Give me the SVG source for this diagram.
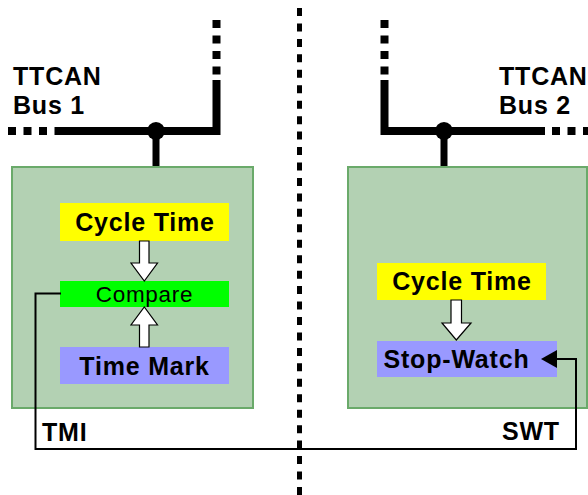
<svg xmlns="http://www.w3.org/2000/svg" width="588" height="495" viewBox="0 0 588 495">
<style>
.unit{fill:#b3d1b3;stroke:#6aaa6a;stroke-width:2}
.bus{fill:none;stroke:#000;stroke-width:8;stroke-linejoin:miter;stroke-linecap:butt}
.dash{fill:none;stroke:#000;stroke-width:8;stroke-dasharray:8 7.5}
.sep{fill:none;stroke:#000;stroke-width:5;stroke-dasharray:8 7.45}
.b{font-family:"Liberation Sans",Arial,sans-serif;font-weight:bold;font-size:25px;letter-spacing:0.8px;fill:#000}
.r{font-family:"Liberation Sans",Arial,sans-serif;font-size:22.5px;letter-spacing:0.7px;fill:#000}
.harrow{fill:#fff;stroke:#000;stroke-width:1.2;stroke-linejoin:miter}
.wire{fill:none;stroke:#000;stroke-width:2}
</style>
<g id="separator">
<line class="sep" x1="299.5" y1="8" x2="299.5" y2="495"/>
</g>
<g id="bus1">
<path class="bus" d="M54.5,131 H216.5 V80"/>
<path class="dash" d="M8,131 H48"/>
<path class="dash" d="M216.5,20 V75"/>
<line x1="156" y1="131" x2="156" y2="167" stroke="#000" stroke-width="7"/>
<circle cx="156" cy="131" r="9" fill="#000"/>
<text class="b" x="13" y="85">TTCAN</text>
<text class="b" x="13" y="114">Bus 1</text>
</g>
<g id="bus2">
<path class="bus" d="M384.5,80 V131 H545"/>
<path class="dash" d="M384.5,20 V75"/>
<path class="dash" d="M552,131 H592"/>
<line x1="444" y1="131" x2="444" y2="167" stroke="#000" stroke-width="7"/>
<circle cx="444" cy="131" r="9" fill="#000"/>
<text class="b" x="499" y="85">TTCAN</text>
<text class="b" x="499" y="114">Bus 2</text>
</g>
<g id="tmi-unit">
<rect class="unit" x="12" y="167" width="241" height="241"/>
<text class="b" x="42" y="441">TMI</text>
</g>
<g id="swt-unit">
<rect class="unit" x="348" y="167" width="239" height="241"/>
<text class="b" x="502" y="440">SWT</text>
</g>
<g id="cycle-time-1">
<rect x="60" y="203" width="169" height="38" fill="#ffff00"/>
<text class="b" x="145" y="230.5" text-anchor="middle">Cycle Time</text>
</g>
<g id="compare">
<rect x="60" y="281" width="169" height="26" fill="#00ff00"/>
<text class="r" x="144.5" y="302" text-anchor="middle">Compare</text>
</g>
<g id="time-mark">
<rect x="60" y="347" width="169" height="37" fill="#9999ff"/>
<text class="b" x="144.5" y="374.5" text-anchor="middle">Time Mark</text>
</g>
<g id="cycle-time-2">
<rect x="377" y="263" width="169" height="37" fill="#ffff00"/>
<text class="b" x="462" y="290" text-anchor="middle">Cycle Time</text>
</g>
<g id="stop-watch">
<rect x="377" y="341" width="180" height="36" fill="#9999ff"/>
<text class="b" x="456.5" y="368" text-anchor="middle">Stop-Watch</text>
</g>
<g id="connectors">
<path class="harrow" d="M139.5,241 H149 V263 H157.5 L144.3,281 L131,263 H139.5 Z"/>
<path class="harrow" d="M139.5,347 H149 V325 H157.5 L144.3,307 L131,325 H139.5 Z"/>
<path class="harrow" d="M451,300 H461.5 V323 H471 L456.3,340 L442,323 H451 Z"/>
<path class="wire" d="M61,293.5 H35.5 V449 H576 V359 H556"/>
<polygon points="541,359 557,350 557,368" fill="#000"/>
</g>
</svg>
